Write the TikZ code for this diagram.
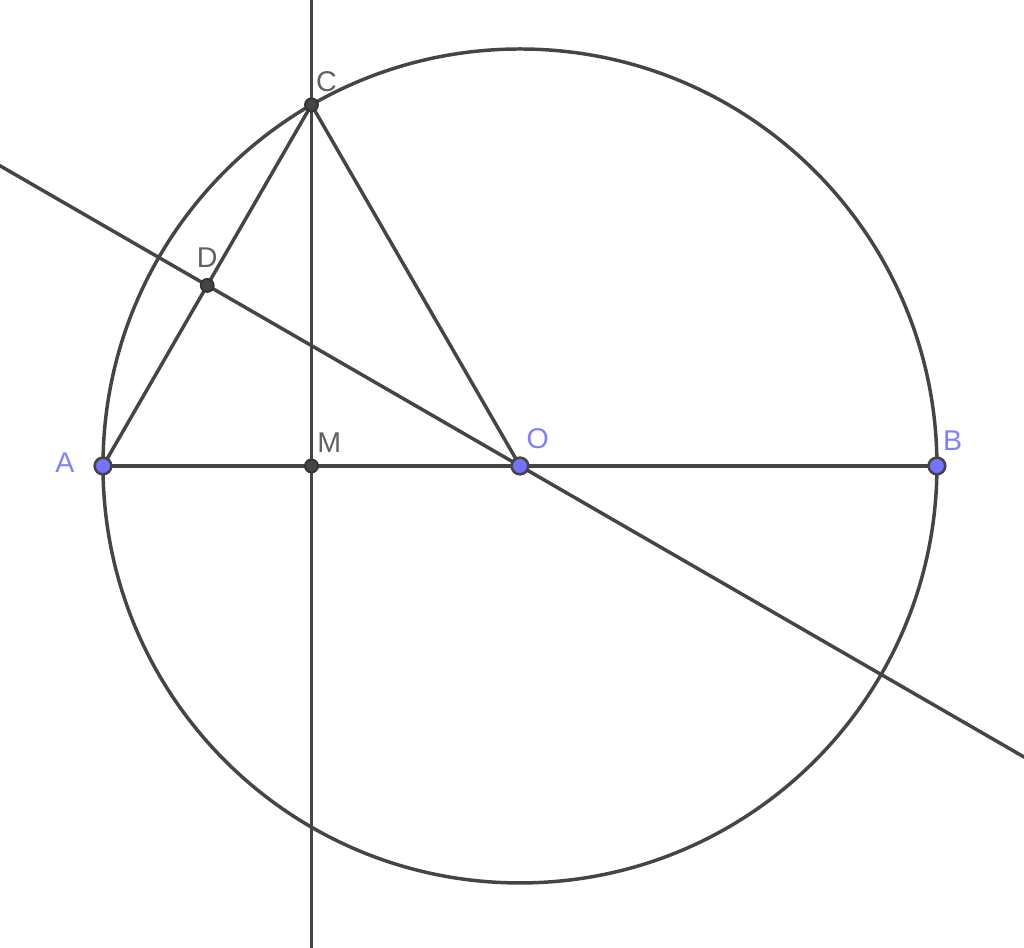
\documentclass[tikz,border=0pt]{standalone}
\usepackage{fontspec}
\setmainfont{Liberation Sans}
\usetikzlibrary{calc}
\definecolor{linegray}{HTML}{454545}
\definecolor{ptblue}{HTML}{7373FF}
\definecolor{lblblue}{HTML}{8080FF}
\tikzset{
  geo/.style={draw=linegray, line width=0.95pt},
  bluept/.style={circle, fill=ptblue, draw=linegray, line width=0.7pt, inner sep=0pt, minimum size=0.16cm},
  darkpt/.style={circle, fill=linegray, draw=black!80, line width=0.5pt, inner sep=0pt, minimum size=0.125cm},
  lbl/.style={font=\fontsize{7.8}{9}\selectfont, text=linegray!85, inner sep=0pt},
  bluelbl/.style={lbl, text=lblblue}
}
\begin{document}
\begin{tikzpicture}
\useasboundingbox (-4.988,-4.624) rectangle (4.835,4.470);
\clip (-4.988,-4.624) rectangle (4.835,4.470);

\coordinate (O) at (0,0);
\coordinate (A) at (-4,0);
\coordinate (B) at (4,0);
\coordinate (M) at (-2,0);
\coordinate (C) at (-2,{sqrt(12)});
\coordinate (D) at ($(A)!0.5!(C)$);

% circle and lines
\draw[geo] (O) circle (4);
\draw[geo] ($(M)!1.5!(C)$) -- ($(M)!-2!(C)$);
\draw[geo] ($(O)!2!(D)$) -- ($(O)!-2!(D)$);

% segments
\draw[geo] (A) -- (B);
\draw[geo] (A) -- (C) -- (O);

% points
\node[darkpt] (pC) at (C) {};
\node[darkpt] (pD) at (D) {};
\node[darkpt] (pM) at (M) {};
\node[bluept] (pA) at (A) {};
\node[bluept] (pO) at (O) {};
\node[bluept] (pB) at (B) {};

% labels
\node[bluelbl] (lA) at ($(A)+(-0.365,0.03)$) {A};
\node[bluelbl] (lO) at ($(O)+(0.17,0.26)$) {O};
\node[bluelbl] (lB) at ($(B)+(0.15,0.24)$) {B};
\node[lbl] (lC) at ($(C)+(0.144,0.22)$) {C};
\node[lbl] (lD) at ($(D)+(0,0.27)$) {D};
\node[lbl] (lM) at ($(M)+(0.17,0.22)$) {M};
\end{tikzpicture}
\end{document}
